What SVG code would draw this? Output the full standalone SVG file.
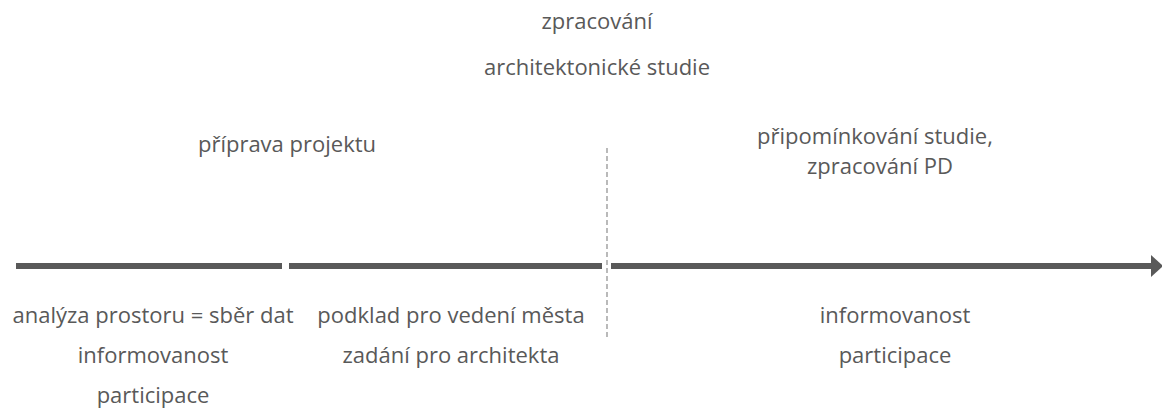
<svg xmlns="http://www.w3.org/2000/svg" width="1162" height="410" viewBox="0 0 1162 410">
<style>
text{font-family:"Open Sans","Liberation Sans",sans-serif;font-size:22px;fill:#595959;text-anchor:middle}
.bar{stroke:#595959;stroke-width:6;fill:none}
.dash{stroke:#8c8c8c;stroke-width:1.2;stroke-dasharray:5,3;fill:none}
</style>
<defs>
<marker id="ah" markerUnits="userSpaceOnUse" markerWidth="12" markerHeight="22" refX="0" refY="11" orient="auto">
<path d="M0,0 L12,11 L0,22 Z" fill="#595959"/>
</marker>
</defs>
<rect width="1162" height="410" fill="#fff"/>
<g id="connectors">
<line class="bar" x1="16" y1="266" x2="282" y2="266"/>
<line class="bar" x1="289" y1="266" x2="602" y2="266"/>
<line class="bar" x1="611" y1="266" x2="1151" y2="266" marker-end="url(#ah)"/>
<line class="dash" x1="607" y1="148" x2="607" y2="340"/>
</g>
<g id="top-study"><text x="597" y="29">zpracování</text><text x="597" y="75">architektonické studie</text></g>
<g id="prep"><text x="287" y="152">příprava projektu</text></g>
<g id="review"><text x="875" y="144">připomínkování studie,</text><text x="880" y="174">zpracování PD</text></g>
<g id="analysis"><text x="153" y="323">analýza prostoru = sběr dat</text><text x="153" y="363">informovanost</text><text x="153" y="403">participace</text></g>
<g id="basis"><text x="451" y="323">podklad pro vedení města</text><text x="451" y="363">zadání pro architekta</text></g>
<g id="info"><text x="895" y="323">informovanost</text><text x="895" y="363">participace</text></g>
</svg>
